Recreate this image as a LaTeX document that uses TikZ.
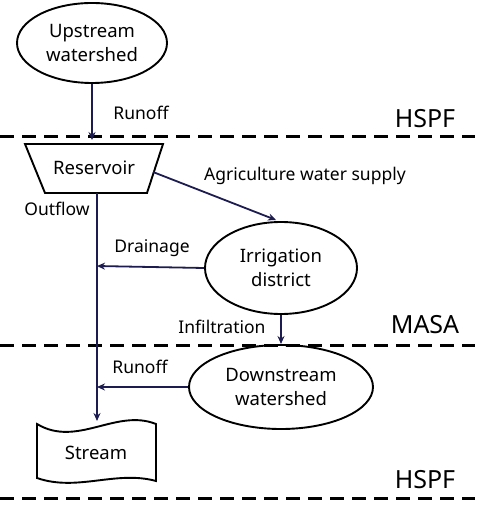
\documentclass[tikz,border=0pt]{standalone}
\usepackage{fontspec}
\setmainfont{Noto Sans}
\usetikzlibrary{arrows.meta,shapes.geometric}
\definecolor{navy}{HTML}{1C1C50}
\tikzset{
  shp/.style={draw=black, line width=1.9pt},
  flow/.style={draw=navy, line width=1.8pt, -{Stealth[length=8pt,width=7pt]}},
  sep/.style={draw=black, line width=3pt, dash pattern=on 14pt off 8pt},
  lbl/.style={font=\fontsize{17.5}{20}\selectfont, inner sep=0pt},
  big/.style={font=\fontsize{18.5}{24}\selectfont, align=center, inner sep=0pt},
  model/.style={font=\fontsize{25}{28}\selectfont, inner sep=0pt}
}
\begin{document}
\begin{tikzpicture}[x=1pt,y=-1pt]
\useasboundingbox (0,0) rectangle (479,510);
% separators
\draw[sep] (0,137) -- (475,137);
\draw[sep] (0,345) -- (475,345);
\draw[sep] (0,498) -- (475,498);
\node[model] (h1) at (425,119) {HSPF};
\node[model] (m1) at (425,325) {MASA};
\node[model] (h2) at (425,480) {HSPF};
% upstream
\node[shp, ellipse, minimum width=150pt, minimum height=80pt, inner sep=0pt, big] (up) at (92,43) {Upstream\\watershed};
% reservoir
\draw[shp] (25,144) -- (163,144) -- (147,193) -- (45,193) -- cycle;
\node[big] (res) at (94,168) {Reservoir};
\coordinate (restop) at (92,140);
\coordinate (resbot) at (97,193);
\coordinate (resright) at (153,172);
% irrigation
\node[shp, ellipse, minimum width=152pt, minimum height=92pt, inner sep=0pt, big] (irr) at (281,268) {Irrigation\\district};
% downstream
\node[shp, ellipse, minimum width=184pt, minimum height=84pt, inner sep=0pt, big] (down) at (281,387) {Downstream\\watershed};
% stream
\draw[shp] (37,424) .. controls (77,448) and (116,408) .. (156,424) -- (156,481)
  .. controls (116,470) and (77,492) .. (37,478) -- cycle;
\node[big] (str) at (96,453) {Stream};
\coordinate (strtop) at (97,421);
\coordinate (j1) at (97,266);
\coordinate (j2) at (97,387);
\coordinate (irrtop) at (276,220);
% connectors
\draw[flow] (up.south) -- (restop);
\draw[flow] (resbot) -- (strtop);
\draw[flow] (resright) -- (irrtop);
\draw[flow] (irr.west) -- (j1);
\draw[flow] (irr.south) -- (irr.south |- 0,344);
\draw[flow] (down.west) -- (j2);
% labels
\node[lbl] (l1) at (141,113) {Runoff};
\node[lbl] (l2) at (305,176) {Agriculture water supply};
\node[lbl] (l3) at (57,209) {Outflow};
\node[lbl] (l4) at (152,248) {Drainage};
\node[lbl] (l5) at (222,327) {Infiltration};
\node[lbl] (l6) at (140,367) {Runoff};
\end{tikzpicture}
\end{document}
